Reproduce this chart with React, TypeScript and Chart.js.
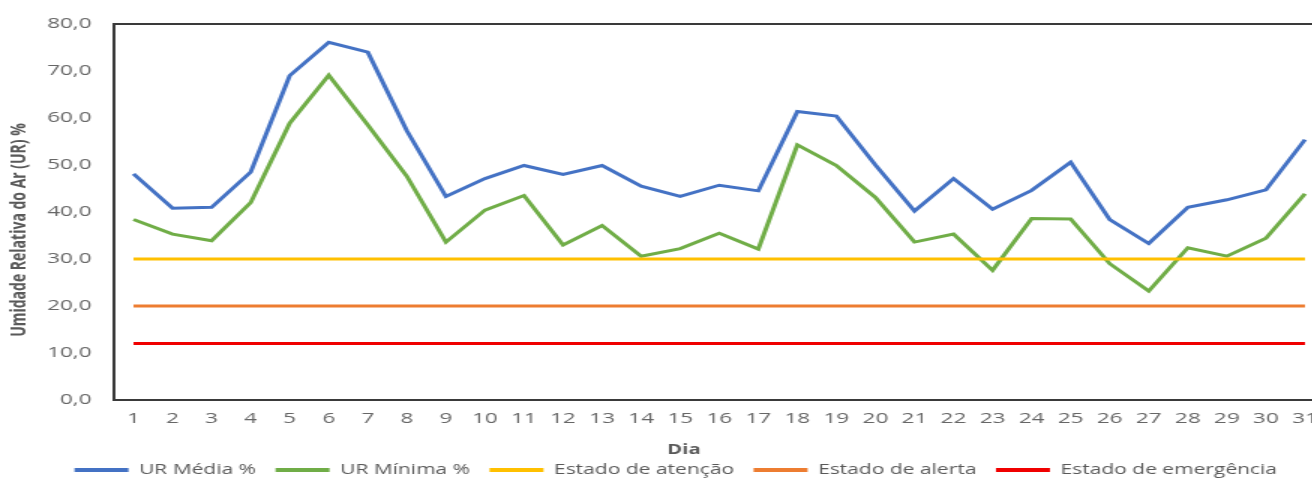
import { useEffect, useRef } from 'react';
import { Chart, registerables } from 'chart.js';

Chart.register(...registerables);

// Dias do mês
const dias = [
  '1', '2', '3', '4', '5', '6', '7', '8', '9', '10',
  '11', '12', '13', '14', '15', '16', '17', '18', '19', '20',
  '21', '22', '23', '24', '25', '26', '27', '28', '29', '30', '31',
];

// Umidade relativa média diária (%)
const urMedia = [
  48.1, 40.8, 41.0, 48.5, 69.0, 76.1, 74.0, 57.3, 43.3, 47.1,
  49.9, 48.0, 49.9, 45.5, 43.3, 45.7, 44.5, 61.4, 60.4, 50.0,
  40.2, 47.1, 40.6, 44.6, 50.6, 38.4, 33.3, 41.0, 42.6, 44.7, 55.4,
];

// Umidade relativa mínima diária (%)
const urMinima = [
  38.4, 35.3, 33.9, 42.0, 58.9, 69.1, 58.5, 47.6, 33.6, 40.4,
  43.5, 33.0, 37.1, 30.6, 32.2, 35.5, 32.1, 54.3, 49.9, 43.1,
  33.6, 35.3, 27.6, 38.6, 38.5, 29.0, 23.2, 32.4, 30.6, 34.4, 43.9,
];

// Limiares de referência (%)
const estadoAtencao = [
  30, 30, 30, 30, 30, 30, 30, 30, 30, 30,
  30, 30, 30, 30, 30, 30, 30, 30, 30, 30,
  30, 30, 30, 30, 30, 30, 30, 30, 30, 30, 30,
];
const estadoAlerta = [
  20, 20, 20, 20, 20, 20, 20, 20, 20, 20,
  20, 20, 20, 20, 20, 20, 20, 20, 20, 20,
  20, 20, 20, 20, 20, 20, 20, 20, 20, 20, 20,
];
const estadoEmergencia = [
  12, 12, 12, 12, 12, 12, 12, 12, 12, 12,
  12, 12, 12, 12, 12, 12, 12, 12, 12, 12,
  12, 12, 12, 12, 12, 12, 12, 12, 12, 12, 12,
];

const tituloY = 'Umidade Relativa do Ar (UR) %';
const tituloX = 'Dia';

// The chart is laid out narrow and widened horizontally.
const STRETCH = 1.5;
const W = 912;
const H = 487;

const FONT = '"Open Sans", "DejaVu Sans", sans-serif';
const TICK_COLOR = '#666666';
const TEXT_COLOR = '#595959';

// Frame around the plot area plus the two axis captions.
const frameAndCaptions = {
  id: 'frameAndCaptions',
  afterDraw(chart: any) {
    const { ctx, chartArea: a } = chart;
    ctx.save();
    ctx.strokeStyle = '#3a3a3a';
    ctx.lineWidth = 2;
    ctx.strokeRect(a.left, a.top, a.right - a.left, a.bottom - a.top);

    ctx.fillStyle = TEXT_COLOR;
    ctx.textAlign = 'center';
    ctx.textBaseline = 'middle';
    ctx.font = `bold 13.5px ${FONT}`;
    ctx.fillText(tituloX, chart.width / 2, 450);

    ctx.translate(12.7, 230);
    ctx.rotate(-Math.PI / 2);
    ctx.font = `bold 14px ${FONT}`;
    ctx.fillText(tituloY, 0, 0);
    ctx.restore();
  },
};

function serie(label: string, data: number[], color: string, order: number) {
  return {
    label,
    data,
    borderColor: color,
    backgroundColor: color,
    borderWidth: 3,
    pointRadius: 0,
    pointHoverRadius: 0,
    tension: 0,
    fill: false,
    order,
  };
}

export default function App() {
  const ref = useRef<HTMLCanvasElement | null>(null);

  useEffect(() => {
    if (!ref.current) return;
    const chart = new Chart(ref.current, {
      type: 'line',
      data: {
        labels: dias,
        datasets: [
          serie('UR Média %', urMedia, '#4472C4', 5),
          serie('UR Mínima %', urMinima, '#70AD47', 4),
          serie('Estado de atenção', estadoAtencao, '#FFC000', 3),
          serie('Estado de alerta', estadoAlerta, '#ED7D31', 2),
          serie('Estado de emergência', estadoEmergencia, '#F00000', 1),
        ] as any,
      },
      options: {
        animation: false,
        responsive: false,
        maintainAspectRatio: false,
        devicePixelRatio: 1,
        layout: { padding: { left: 18, right: 29, top: 20, bottom: 0 } },
        scales: {
          x: {
            offset: true,
            grid: { display: false, drawTicks: false },
            border: { display: false },
            ticks: {
              color: TICK_COLOR,
              font: { family: FONT, size: 15 },
              padding: 10,
              autoSkip: false,
              maxRotation: 0,
            },
            afterFit: (s: any) => {
              s.height = 50;
            },
          },
          y: {
            min: 0,
            max: 80,
            grid: { display: false, drawTicks: false },
            border: { display: false },
            ticks: {
              stepSize: 10,
              padding: 15,
              color: TICK_COLOR,
              font: { family: FONT, size: 15 },
              callback: (v: any) => Number(v).toFixed(1).replace('.', ','),
            },
            afterFit: (s: any) => {
              s.width = 58;
            },
          },
        },
        plugins: {
          tooltip: { enabled: false },
          legend: {
            position: 'bottom',
            labels: {
              boxWidth: 36,
              boxHeight: 4,
              padding: 13,
              color: TEXT_COLOR,
              font: { family: FONT, size: 14 },
              generateLabels: (c: any) =>
                Chart.defaults.plugins.legend.labels
                  .generateLabels(c)
                  .map((l: any) => ({ ...l, fillStyle: l.strokeStyle, lineWidth: 0 }))
                  .sort((p: any, q: any) => p.datasetIndex - q.datasetIndex),
            },
          },
        },
      } as any,
      plugins: [frameAndCaptions],
    });
    return () => chart.destroy();
  }, []);

  return (
    <div
      style={{
        position: 'fixed',
        left: 0,
        top: 0,
        width: 1312,
        height: 478,
        overflow: 'hidden',
        background: '#ffffff',
      }}
    >
      <div
        style={{
          width: W,
          height: H,
          transform: `scaleX(${STRETCH})`,
          transformOrigin: '0 0',
        }}
      >
        <canvas ref={ref} width={W} height={H} style={{ display: 'block' }} />
      </div>
    </div>
  );
}
